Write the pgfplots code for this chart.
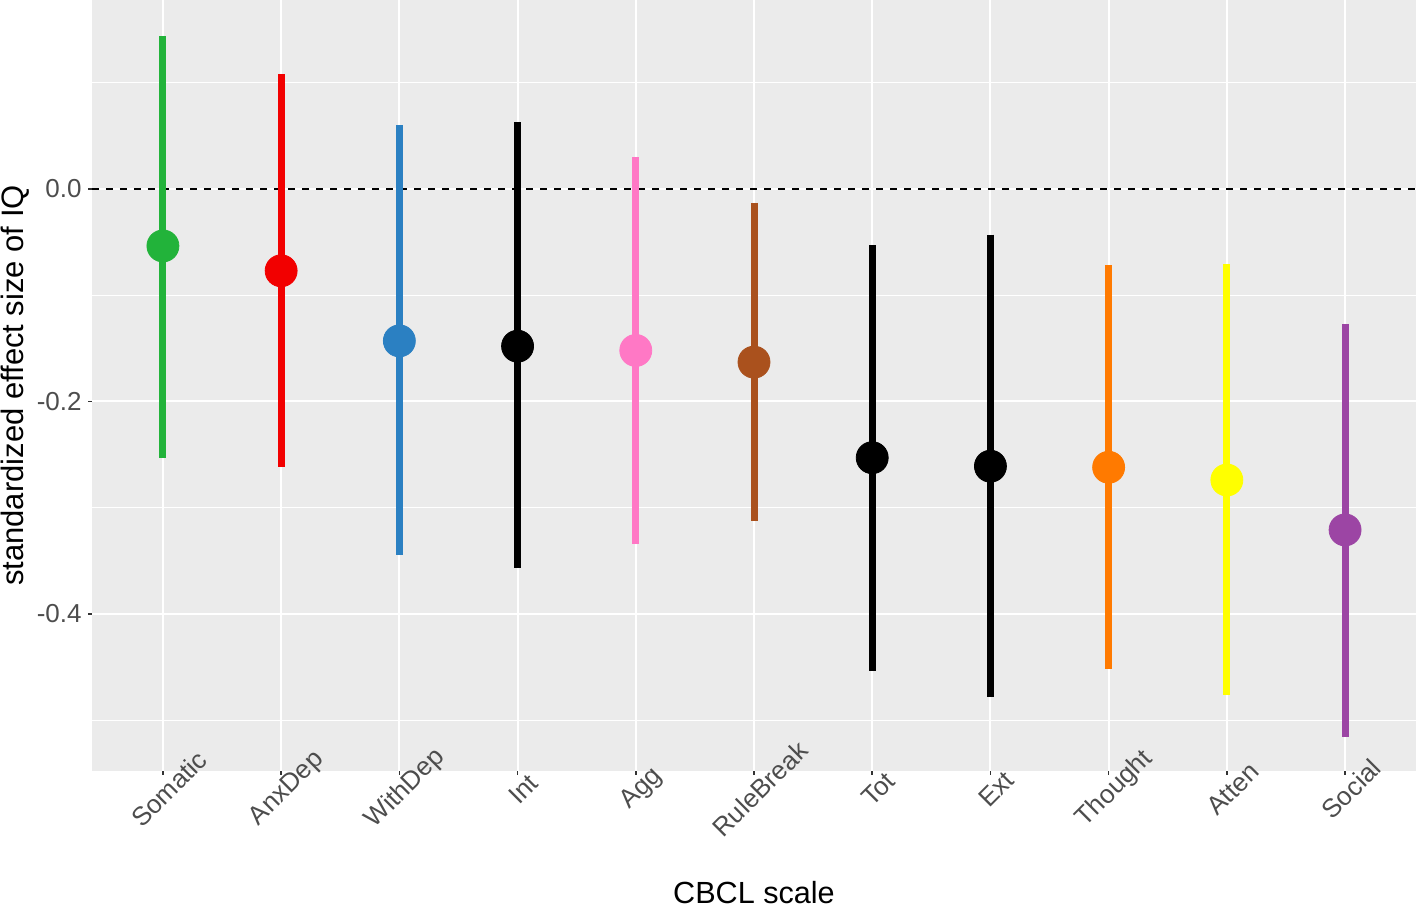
\documentclass[border=0pt]{standalone}
\usepackage{pgfplots}
\pgfplotsset{compat=1.18}
\usepackage{fontspec}
\setmainfont{Liberation Sans}

\definecolor{panel}{HTML}{EBEBEB}
\definecolor{tickgray}{HTML}{4D4D4D}
\definecolor{cSom}{HTML}{22B33A}
\definecolor{cAnx}{HTML}{F20000}
\definecolor{cWith}{HTML}{2B80C2}
\definecolor{cAgg}{HTML}{FF78C5}
\definecolor{cRule}{HTML}{AA511D}
\definecolor{cTho}{HTML}{FF7A00}
\definecolor{cAtt}{HTML}{FFFF00}
\definecolor{cSoc}{HTML}{9C45A4}

% one category: colour, x, estimate, upper, lower
\newcommand{\est}[5]{%
  \addplot[#1, line width=3.5pt, forget plot] coordinates {(#2,#4) (#2,#5)};
  \addplot[#1, only marks, mark=*, mark size=8pt, forget plot] coordinates {(#2,#3)};
}

\begin{document}
\begin{tikzpicture}
\begin{axis}[
  name=ax,
  scale only axis,
  width=662pt, height=385.5pt,
  xmin=0.4, xmax=11.6,
  ymin=-0.548, ymax=0.178,
  axis background/.style={fill=panel},
  axis line style={draw=none},
  xtick={1,...,11},
  xticklabels={Somatic,AnxDep,WithDep,Int,Agg,RuleBreak,Tot,Ext,Thought,Atten,Social},
  ytick={0,-0.2,-0.4},
  yticklabels={0.0,-0.2,-0.4},
  minor ytick={0.1,-0.1,-0.3,-0.5},
  grid=both,
  major grid style={white, line width=1pt},
  minor grid style={white, line width=0.5pt},
  tick align=outside,
  major tick length=2pt, minor tick length=0pt,
  tick style={color=black!80, line width=0.8pt},
  xtick pos=bottom, ytick pos=left,
  ticklabel style={font=\fontsize{13}{15.5}\selectfont, text=tickgray},
  xticklabel style={xshift=3pt, yshift=-7pt, rotate=45, anchor=center, inner sep=0pt},
  yticklabel style={inner sep=0pt, xshift=-3pt},
  clip=false,
]
\addplot[black, line width=0.6pt, dash pattern=on 3.5pt off 3.5pt, forget plot] coordinates {(0.4,0) (11.6,0)};
\est{cSom}{1}{-0.0536}{0.144}{-0.253}
\est{cAnx}{2}{-0.077}{0.108}{-0.262}
\est{cWith}{3}{-0.143}{0.060}{-0.345}
\est{black}{4}{-0.148}{0.063}{-0.357}
\est{cAgg}{5}{-0.152}{0.030}{-0.334}
\est{cRule}{6}{-0.163}{-0.013}{-0.313}
\est{black}{7}{-0.253}{-0.053}{-0.454}
\est{black}{8}{-0.261}{-0.043}{-0.478}
\est{cTho}{9}{-0.262}{-0.072}{-0.452}
\est{cAtt}{10}{-0.274}{-0.071}{-0.476}
\est{cSoc}{11}{-0.321}{-0.127}{-0.516}
\coordinate (yl) at (rel axis cs:0,0.5);
\coordinate (xl) at (rel axis cs:0.5,0);
\end{axis}
\node[rotate=90, anchor=north, inner sep=0pt, font=\fontsize{15.5}{18}\selectfont] at ([xshift=-45.5pt]yl) {standardized effect size of IQ};
\node[anchor=center, inner sep=0pt, font=\fontsize{15.3}{18}\selectfont] at ([yshift=-61pt]xl) {CBCL scale};
\pgfresetboundingbox
\path ([xshift=-46pt, yshift=-69pt]ax.south west) rectangle (ax.north east);
\end{tikzpicture}
\end{document}
